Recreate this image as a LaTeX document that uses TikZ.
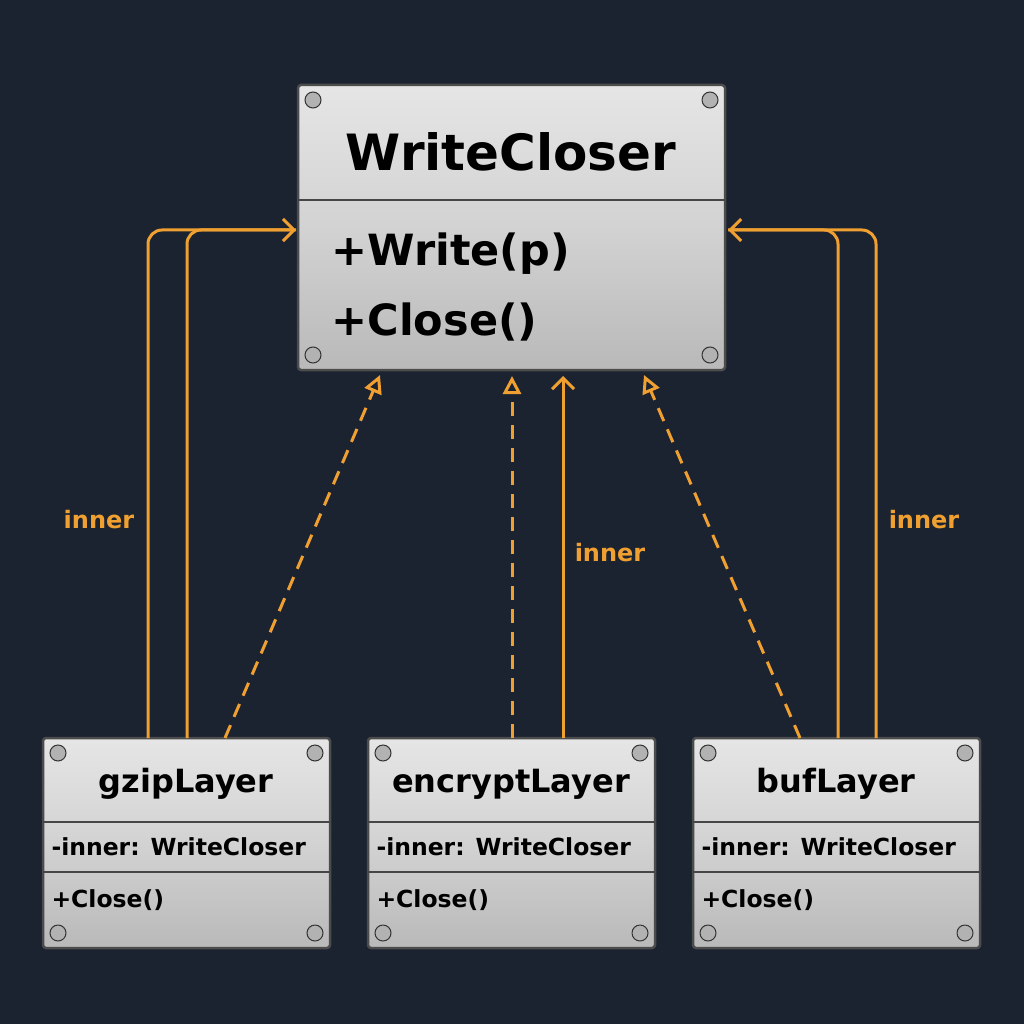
\documentclass[tikz,border=0pt]{standalone}
\usepackage{fontspec}
\setmainfont{DejaVu Sans}
\usetikzlibrary{arrows.meta}
\definecolor{bg}{HTML}{1B2330}
\definecolor{org}{HTML}{F0A030}
\tikzset{
 plate/.style={draw=gray!60!black, line width=2.5pt, rounded corners=3pt, top color=gray!20, bottom color=gray!55, middle color=gray!35},
 screw/.style={circle, draw=gray!40!black, line width=1pt, fill=gray!60, inner sep=0pt, minimum size=16pt},
 divline/.style={draw=gray!55!black, line width=2pt},
 sol/.style={draw=org, line width=3pt, rounded corners=14pt},
 das/.style={draw=org, line width=3pt, dash pattern=on 14pt off 9pt},
 vtip/.style={-{Straight Barb[length=11pt,width=22pt]}},
 ttip/.style={-{Triangle[open,length=18pt,width=18pt,fill=bg]}},
 lbl/.style={text=org, font=\bfseries\fontsize{24}{28}\selectfont},
 txt/.style={anchor=west, font=\bfseries}
}
\newcommand{\plate}[5]{%
 \path[plate] (#1,#2) rectangle (#3,#4);
 \foreach \xx/\yy in {#1+15/#2+15, #3-15/#2+15, #1+15/#4-15, #3-15/#4-15}
   \node[screw] at (\xx,\yy) {};
}
\begin{document}
\begin{tikzpicture}[x=1pt,y=-1pt]
\fill[bg] (0,0) rectangle (1024,1024);
\useasboundingbox (0,0) rectangle (1024,1024);
% top plate
\plate{298}{85}{725}{370}{}
\draw[divline] (298,200) -- (725,200);
\node[font=\bfseries\fontsize{50}{56}\selectfont] (wc) at (511,152) {WriteCloser};
\node[txt, font=\bfseries\fontsize{43}{48}\selectfont] (m1) at (328,254) {+Write(p)};
\node[txt, font=\bfseries\fontsize{43}{48}\selectfont] (m2) at (328,322) {+Close()};
% bottom plates
\foreach \x/\n/\name in {43/gzipLayer/g, 368/encryptLayer/e, 693/bufLayer/b}{
 \plate{\x}{738}{\x+287}{948}{}
 \draw[divline] (\x,822) -- (\x+287,822);
 \draw[divline] (\x,872) -- (\x+287,872);
 \node[font=\bfseries\fontsize{32}{38}\selectfont] (\name) at (\x+143,784) {\n};
 \node[txt, font=\bfseries\fontsize{23.5}{28}\selectfont] at (\x+5,847) {-inner: WriteCloser};
 \node[txt, font=\bfseries\fontsize{23.5}{28}\selectfont] at (\x+5,900) {+Close()};
}
% connectors
\coordinate (gl1) at (148,738); \coordinate (gl2) at (187,738);
\coordinate (el) at (563,738); \coordinate (ed) at (512,738);
\coordinate (gd) at (225,738); \coordinate (bd) at (800,738);
\coordinate (bl1) at (838,738); \coordinate (bl2) at (876,738);
\coordinate (wl) at (296,230); \coordinate (wr) at (728,230);
\draw[sol] (gl1) |- (wl);
\draw[sol,vtip] (gl2) |- (wl);
\draw[sol] (bl2) |- (wr);
\draw[sol,vtip] (bl1) |- (wr);
\draw[sol,vtip] (el) -- (563,376);
\draw[das,ttip] (gd) -- (380,375);
\draw[das,ttip] (ed) -- (512,376);
\draw[das,ttip] (bd) -- (644,375);
\node[lbl] at (99,520) {inner};
\node[lbl] at (610,553) {inner};
\node[lbl] at (924,520) {inner};
\end{tikzpicture}
\end{document}
